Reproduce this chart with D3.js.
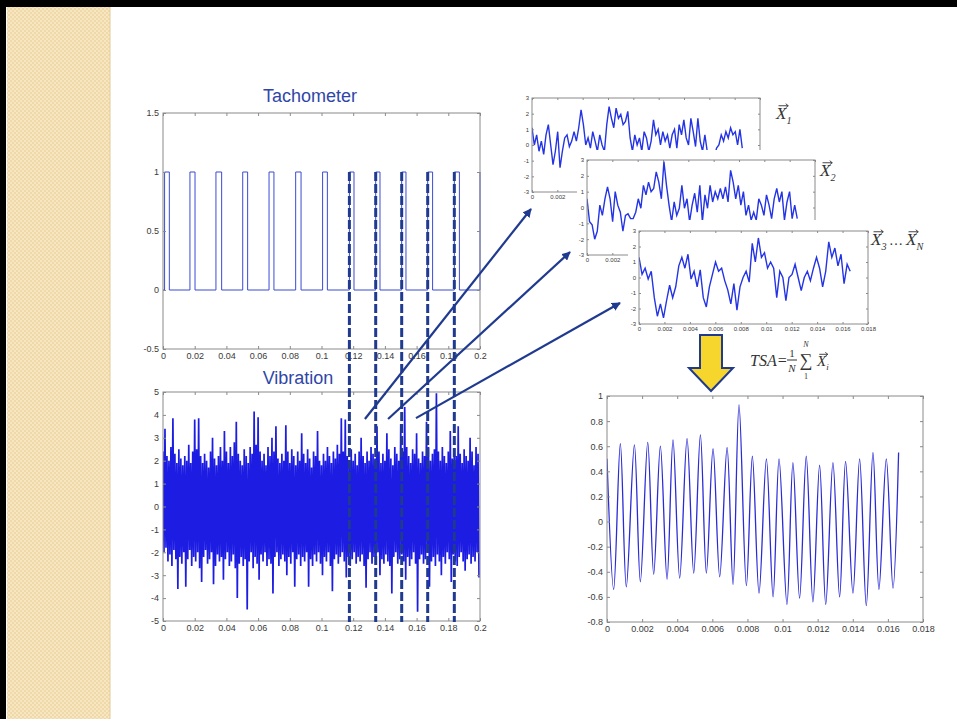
<!DOCTYPE html>
<html>
<head>
<meta charset="utf-8">
<script src="https://cdn.jsdelivr.net/npm/d3@7"></script>
<style>
body{margin:0;background:#fff}
svg{display:block}
</style>
</head>
<body>
<svg></svg>
<script>
// ---- data ----
var tachRise = [0.001, 0.017, 0.0334, 0.0503, 0.0669, 0.0837, 0.1007, 0.1176, 0.1342, 0.1506, 0.167, 0.1838];
var tachFall = [0.004, 0.0202, 0.037, 0.0534, 0.070, 0.0871, 0.1037, 0.1205, 0.1369, 0.1533, 0.1701, 0.187];
var cutTimes = [0.1176, 0.1342, 0.1506, 0.167, 0.1838];

// vibration envelope, one value per 1.25 ms bin
var vibHi = [2.4,3.4,2.2,2.0,2.6,3.85,2.3,1.9,2.5,2.1,
  1.8,2.2,2.0,2.7,1.9,2.4,3.8,2.5,3.85,2.2,
  1.9,2.3,2.0,1.7,2.4,3.0,2.1,1.8,2.2,2.6,
  2.0,3.3,2.4,1.9,2.6,2.2,2.8,3.7,2.3,2.0,
  1.8,2.5,2.2,1.9,2.6,2.3,4.15,2.7,3.9,2.4,
  2.0,2.3,1.8,2.6,2.2,3.0,2.4,3.5,2.1,1.9,
  2.3,2.0,3.55,2.4,1.9,2.5,2.2,1.8,2.4,2.0,
  3.2,2.3,1.9,2.5,2.1,1.7,2.4,2.2,3.3,2.0,
  1.8,2.3,2.0,2.6,2.2,1.9,2.4,2.1,2.7,2.3,
  3.85,2.4,3.8,2.2,1.9,2.5,2.0,2.3,1.8,2.4,
  3.0,2.2,1.9,2.4,2.0,2.6,2.3,2.1,3.5,2.4,
  1.9,2.3,2.0,3.2,2.5,2.1,1.8,2.6,2.3,2.0,
  3.6,2.4,4.35,2.6,2.2,1.9,2.5,2.3,3.2,2.1,
  1.9,2.4,2.2,3.7,2.6,2.0,2.3,2.5,4.95,2.4,
  2.0,2.6,2.2,1.9,2.4,3.3,2.1,2.5,2.2,3.5,
  2.3,1.9,2.5,2.2,2.0,3.0,2.4,1.8,2.6,2.3];
var vibLo = [-2.0,-1.8,-2.4,-2.1,-2.6,-1.9,-2.3,-3.6,-2.2,-2.5,
  -2.0,-3.5,-2.3,-1.9,-2.6,-2.2,-2.4,-2.0,-2.7,-3.3,
  -2.2,-1.9,-2.5,-2.3,-2.0,-3.4,-2.6,-2.1,-2.4,-2.2,
  -3.2,-2.3,-2.0,-2.6,-2.4,-2.1,-2.7,-4.0,-2.5,-2.2,
  -2.6,-2.3,-4.5,-2.4,-2.0,-2.7,-2.2,-2.5,-3.2,-2.1,
  -2.4,-2.0,-2.6,-2.3,-2.5,-3.8,-2.2,-2.0,-2.6,-2.3,
  -2.1,-2.4,-3.0,-2.2,-2.5,-2.0,-3.5,-2.3,-2.1,-2.6,
  -2.2,-2.4,-2.0,-3.5,-2.3,-2.6,-2.1,-2.4,-2.0,-2.5,
  -3.0,-2.2,-2.4,-2.0,-2.6,-3.7,-2.3,-2.1,-2.5,-2.2,
  -2.0,-2.4,-3.1,-2.2,-2.6,-2.3,-2.0,-2.5,-2.2,-2.4,
  -2.1,-2.6,-3.55,-2.3,-2.0,-2.5,-2.2,-2.4,-2.0,-3.0,
  -2.3,-2.5,-2.1,-2.4,-2.6,-3.8,-2.2,-2.0,-2.5,-2.3,
  -2.1,-2.4,-3.2,-2.2,-2.6,-2.3,-2.0,-2.5,-4.6,-2.3,
  -2.1,-2.5,-2.3,-2.0,-3.5,-2.4,-2.2,-2.6,-2.1,-2.4,
  -3.0,-2.2,-2.5,-2.0,-2.3,-3.3,-2.1,-2.4,-2.6,-2.2,
  -2.0,-2.4,-2.8,-2.3,-2.1,-2.5,-2.2,-2.4,-2.0,-3.1];

// the three revolution segments (spread over 0 .. 16.6 ms)
var seg1 = [1.1,0,0.65,-0.4,0.25,-0.6,0.65,1.3,0,-1.25,-0.4,0.85,-1.45,-0.4,0.45,0.65,-0.1,0.25,0.85,0.25,
  1.1,2.25,1.3,0,0.45,-0.2,0.85,0.25,-0.4,0.65,0,-0.4,1.3,2.45,1.7,1.1,2.35,1.7,1.95,1.3,
  1.5,2.15,0.45,-0.4,0.65,0,0.45,-0.4,0.85,0.45,-0.4,0.25,1.6,0.65,1.0,0,0.85,0.25,0.65,-0.2,
  0.65,1.0,-0.2,1.3,0.65,1.6,0.45,0,1.7,0.85,-0.1,1.7,0.25,-0.4,0.65,-0.4,-0.6,-1.0,-0.8,-0.2,
  0,0.65,0.25,0.85,0.45,1.1,0.65,0.85,0,1.0,-0.2];
var seg2 = [0.55,-0.9,-1.1,-2.0,-1.5,0.15,-0.5,0.55,1.3,0.55,-0.9,1.0,0.15,-0.3,-1.5,-0.5,-0.4,-0.7,-0.7,-0.3,
  0.55,-0.05,1.4,0.8,1.6,1.0,1.2,2.25,1.6,0.55,2.9,1.4,0.15,-0.9,0.35,-0.5,-0.05,1.4,-0.05,0.55,
  -0.9,0.15,0.9,-0.3,1.4,-0.9,0.8,-0.05,1.4,0.35,1.0,0.55,1.2,0.55,1.3,0.35,2.35,1.6,0.55,1.4,
  0.15,1.0,-0.5,0.15,-0.8,-0.3,-0.8,0.55,0.15,-0.5,0.8,0.15,-0.7,0.55,1.2,0.35,1.0,-0.8,0.35,1.0,
  -0.7,0.15,-0.7];
var seg3 = [1.3,0.2,0.6,-0.1,0.4,-1.3,-2.5,-1.7,-2.6,-1.5,-0.5,-1.3,-0.6,0.75,1.3,0.6,1.5,-0.1,0.4,-0.6,
  0.5,-1.3,-1.9,-0.6,0.2,1.0,0.4,0.6,-0.2,-0.8,-1.7,-0.4,-2.1,-0.6,0,0.4,-0.3,2.2,1.0,2.55,
  1.3,1.6,0.6,1.0,0.6,-1.3,0.4,0,-1.5,0,0.2,0.85,0,-0.85,0,0.4,-0.2,0.6,1.3,0.6,
  -0.6,0.4,2.3,1.3,1.9,0.75,1.5,-0.4,0.85,0.4];
var segEnd = 0.0166;

// time synchronous average: turning points (ms, value)
var tsaT = [0,0.38,0.76,1.10,1.56,1.90,2.32,2.66,3.04,3.42,3.76,4.14,4.56,4.94,5.32,5.66,6.04,6.42,6.84,7.18,
  7.52,7.94,8.28,8.66,9.08,9.46,9.80,10.25,10.59,10.97,11.35,11.73,12.11,12.46,12.87,13.25,13.59,14.01,14.39,14.77,
  15.15,15.49,15.91,16.29,16.61];
var tsaV = [0.5,-0.54,0.62,-0.52,0.61,-0.48,0.63,-0.42,0.6,-0.46,0.65,-0.45,0.66,-0.41,0.69,-0.41,0.58,-0.44,0.59,-0.5,
  0.93,-0.51,0.52,-0.57,0.5,-0.6,0.5,-0.66,0.47,-0.61,0.52,-0.64,0.45,-0.66,0.47,-0.6,0.48,-0.57,0.5,-0.67,
  0.55,-0.54,0.5,-0.53,0.55];

var bigXTicks = [0,0.02,0.04,0.06,0.08,0.1,0.12,0.14,0.16,0.18,0.2];
var tachYTicks = [-0.5,0,0.5,1,1.5];
var vibYTicks = [-5,-4,-3,-2,-1,0,1,2,3,4,5];
var segXTicks = [0,0.002,0.004,0.006,0.008,0.01,0.012,0.014,0.016,0.018];
var segYTicks = [-3,-2,-1,0,1,2,3];
var tsaYTicks = [-0.8,-0.6,-0.4,-0.2,0,0.2,0.4,0.6,0.8,1];

var sans = "Liberation Sans, Arial, sans-serif";
var serif = "Liberation Serif, Times New Roman, serif";
var dark = "#1f3a8f";

var svg = d3.select("svg").attr("width", 957).attr("height", 719);
var defs = svg.append("defs");

// slide frame: black edges and beige checkered strip
var pat = defs.append("pattern").attr("id", "chk").attr("width", 4).attr("height", 4)
  .attr("patternUnits", "userSpaceOnUse");
pat.append("rect").attr("width", 4).attr("height", 4).attr("fill", "#efd9a8");
pat.append("rect").attr("width", 2).attr("height", 2).attr("fill", "#f6e6c2");
pat.append("rect").attr("x", 2).attr("y", 2).attr("width", 2).attr("height", 2).attr("fill", "#f6e6c2");
svg.append("rect").attr("width", 957).attr("height", 719).attr("fill", "#fff");
svg.append("rect").attr("x", 7).attr("y", 7).attr("width", 103).attr("height", 712).attr("fill", "url(#chk)");
svg.append("line").attr("x1", 110).attr("x2", 110).attr("y1", 7).attr("y2", 719).attr("stroke", "#e2cc98");
svg.append("rect").attr("width", 957).attr("height", 7).attr("fill", "#000");
svg.append("rect").attr("width", 6).attr("height", 719).attr("fill", "#000");

var fmt = function(d){ return String(+d.toFixed(4)); };
var clipN = 0;

function panel(c) {
  var g = svg.append("g");
  var x = d3.scaleLinear().domain(c.xd).range([c.x0, c.x1]);
  var y = d3.scaleLinear().domain(c.yd).range([c.y1, c.y0]);
  if (c.fig) g.append("rect").attr("x", c.fig[0]).attr("y", c.fig[1])
    .attr("width", c.fig[2]).attr("height", c.fig[3]).attr("fill", "#fff");
  g.append("rect").attr("x", c.x0).attr("y", c.y0).attr("width", c.x1 - c.x0)
    .attr("height", c.y1 - c.y0).attr("fill", "#fff");
  var id = "clip" + (clipN++);
  defs.append("clipPath").attr("id", id).append("rect")
    .attr("x", c.x0).attr("y", c.y0).attr("width", c.x1 - c.x0).attr("height", c.y1 - c.y0);
  var plot = g.append("g").attr("clip-path", "url(#" + id + ")");
  return {g: g, plot: plot, x: x, y: y, c: c};
}

// shown: x tick values that keep a visible label (others sit under the next window)
function axes(p, xt, yt, fs, tl, pad, shown) {
  var c = p.c, g = p.g;
  var sty = function(sel) {
    sel.select(".domain").remove();
    sel.selectAll("line").attr("stroke", "#8a8a8a");
    sel.selectAll("text").attr("fill", "#3a3a3a").attr("font-size", fs).attr("font-family", sans);
  };
  var xf = shown ? function(d){ return shown.indexOf(d) >= 0 ? fmt(d) : ""; } : fmt;
  g.append("g").attr("transform", "translate(0," + c.y1 + ")")
    .call(d3.axisBottom(p.x).tickValues(xt).tickSize(-tl).tickPadding(pad).tickFormat(xf)).call(sty);
  g.append("g").attr("transform", "translate(0," + c.y0 + ")")
    .call(d3.axisTop(p.x).tickValues(xt).tickSize(-tl).tickFormat("")).call(sty);
  g.append("g").attr("transform", "translate(" + c.x0 + ",0)")
    .call(d3.axisLeft(p.y).tickValues(yt).tickSize(-tl).tickPadding(pad).tickFormat(fmt)).call(sty);
  g.append("g").attr("transform", "translate(" + c.x1 + ",0)")
    .call(d3.axisRight(p.y).tickValues(yt).tickSize(-tl).tickFormat("")).call(sty);
  g.append("rect").attr("x", c.x0).attr("y", c.y0).attr("width", c.x1 - c.x0)
    .attr("height", c.y1 - c.y0).attr("fill", "none").attr("stroke", "#8a8a8a");
}

// ---- Tachometer ----
var tach = panel({x0: 163, x1: 480, y0: 113, y1: 349, xd: [0, 0.2], yd: [-0.5, 1.5]});
var tpts = [[0, 0]];
tachRise.forEach(function(r, i) {
  tpts.push([r, 0], [r, 1], [tachFall[i], 1], [tachFall[i], 0]);
});
tpts.push([0.2, 0], [0.2, 1]);
var tline = d3.line().x(function(d){ return tach.x(d[0]); }).y(function(d){ return tach.y(d[1]); });
tach.g.append("path").attr("d", tline(tpts)).attr("fill", "none").attr("stroke", "#3b4bd2").attr("stroke-width", 1);
axes(tach, bigXTicks, tachYTicks, 9, 3, 4);
svg.append("text").attr("x", 310).attr("y", 102).attr("text-anchor", "middle")
  .attr("font-family", sans).attr("font-size", 18).attr("fill", "#2f46a8").text("Tachometer");

// ---- Vibration ----
var vib = panel({x0: 163, x1: 480, y0: 392, y1: 621, xd: [0, 0.2], yd: [-5, 5]});
var binW = 0.2 / vibHi.length;
var vpts = [];
vibHi.forEach(function(h, i) {
  vpts.push([i * binW, h]);
  vpts.push([(i + 0.5) * binW, vibLo[i]]);
});
var vline = d3.line().x(function(d){ return vib.x(d[0]); }).y(function(d){ return vib.y(d[1]); });
vib.plot.append("path").attr("d", vline(vpts)).attr("fill", "none").attr("stroke", "#1c1ce2")
  .attr("stroke-width", 1.7).attr("stroke-linejoin", "bevel");
axes(vib, bigXTicks, vibYTicks, 9, 3, 4);
svg.append("text").attr("x", 298).attr("y", 384).attr("text-anchor", "middle")
  .attr("font-family", sans).attr("font-size", 18).attr("fill", "#2f46a8").text("Vibration");

// dashed revolution markers
svg.selectAll(".cut").data(cutTimes).enter().append("line")
  .attr("x1", function(d){ return tach.x(d); }).attr("x2", function(d){ return tach.x(d); })
  .attr("y1", tach.y(1)).attr("y2", vib.y(-5) + 1)
  .attr("stroke", dark).attr("stroke-width", 3).attr("stroke-dasharray", "9,3");

// ---- segment panels ----
function segPanel(vals, box, fig, shown) {
  var p = panel({x0: box[0], x1: box[1], y0: box[2], y1: box[3], xd: [0, 0.018], yd: [-3, 3], fig: fig});
  var step = segEnd / (vals.length - 1);
  var l = d3.line().x(function(d, i){ return p.x(i * step); }).y(function(d){ return p.y(d); });
  p.plot.append("path").attr("d", l(vals)).attr("fill", "none").attr("stroke", "#2434e4").attr("stroke-width", 1.4);
  axes(p, segXTicks, segYTicks, 6, 2, 3, shown);
  return p;
}
segPanel(seg1, [532, 760, 98, 192], [521, 87, 250, 122], [0, 0.002]);
segPanel(seg2, [587, 815, 160, 255], [577, 150, 250, 122], [0, 0.002]);
segPanel(seg3, [639, 868, 231, 324], [628, 220, 250, 122]);

function vecX(x, y, sub, fs) {
  var t = svg.append("text").attr("x", x).attr("y", y).attr("font-family", serif)
    .attr("font-style", "italic").attr("font-size", fs).attr("fill", "#333");
  t.append("tspan").text("X");
  t.append("tspan").attr("dy", fs * 0.28).attr("font-size", fs * 0.6).text(sub);
  var ay = y - fs * 0.78, ax0 = x + fs * 0.15, ax1 = x + fs * 0.72;
  svg.append("path").attr("d", "M" + ax0 + "," + ay + "H" + ax1 + "M" + (ax1 - 2.5) + "," + (ay - 2) + "L" + ax1 + "," + ay + "L" + (ax1 - 2.5) + "," + (ay + 2))
    .attr("fill", "none").attr("stroke", "#333").attr("stroke-width", 0.9);
}
vecX(776, 119, "1", 17);
vecX(820, 176, "2", 17);
vecX(871, 245, "3", 17);
svg.append("text").attr("x", 889).attr("y", 245).attr("font-family", serif).attr("font-size", 14).attr("fill", "#333").text("\u2026");
vecX(906, 245, "N", 17);

// ---- TSA ----
var tsa = panel({x0: 607, x1: 923, y0: 396, y1: 622, xd: [0, 0.018], yd: [-0.8, 1]});
var sline = d3.line().curve(d3.curveCatmullRom.alpha(0.5))
  .x(function(d, i){ return tsa.x(tsaT[i] / 1000); }).y(function(d){ return tsa.y(d); });
tsa.plot.append("path").attr("d", sline(tsaV)).attr("fill", "none").attr("stroke", "#2a2ad6").attr("stroke-width", 1.3);
axes(tsa, segXTicks, tsaYTicks, 9, 3, 4);

// yellow arrow
svg.append("path").attr("d", "M700,335H722V368H733L711,391L689,368H700Z")
  .attr("fill", "#f6d52c").attr("stroke", dark).attr("stroke-width", 2).attr("stroke-linejoin", "miter");

// formula
var f = svg.append("g").attr("font-family", serif).attr("fill", "#333");
f.append("text").attr("x", 750).attr("y", 366).attr("font-style", "italic").attr("font-size", 16).text("TSA=");
f.append("text").attr("x", 792).attr("y", 357).attr("font-size", 11).attr("text-anchor", "middle").text("1");
f.append("line").attr("x1", 787).attr("x2", 797).attr("y1", 360).attr("y2", 360).attr("stroke", "#333");
f.append("text").attr("x", 792).attr("y", 372).attr("font-style", "italic").attr("font-size", 11).attr("text-anchor", "middle").text("N");
f.append("text").attr("x", 806).attr("y", 366).attr("font-size", 18).attr("text-anchor", "middle").text("\u2211");
f.append("text").attr("x", 806).attr("y", 347).attr("font-style", "italic").attr("font-size", 8).attr("text-anchor", "middle").text("N");
f.append("text").attr("x", 806).attr("y", 379).attr("font-size", 8).attr("text-anchor", "middle").text("1");
vecX(817, 366, "i", 15);

// arrows from the vibration record to the segments
defs.append("marker").attr("id", "ah").attr("viewBox", "0 0 10 10").attr("refX", 9).attr("refY", 5)
  .attr("markerWidth", 4).attr("markerHeight", 4).attr("orient", "auto")
  .append("path").attr("d", "M0,0L10,5L0,10Z").attr("fill", dark);
var arrows = [
  {t: 0.1274, v: 3.82, tip: [531, 209]},
  {t: 0.142, v: 3.82, tip: [570, 252]},
  {t: 0.1596, v: 3.86, tip: [620, 303]}
];
svg.selectAll(".arr").data(arrows).enter().append("line")
  .attr("x1", function(d){ return vib.x(d.t); }).attr("y1", function(d){ return vib.y(d.v); })
  .attr("x2", function(d){ return d.tip[0]; }).attr("y2", function(d){ return d.tip[1]; })
  .attr("stroke", dark).attr("stroke-width", 2.2).attr("marker-end", "url(#ah)");
</script>
</body>
</html>
